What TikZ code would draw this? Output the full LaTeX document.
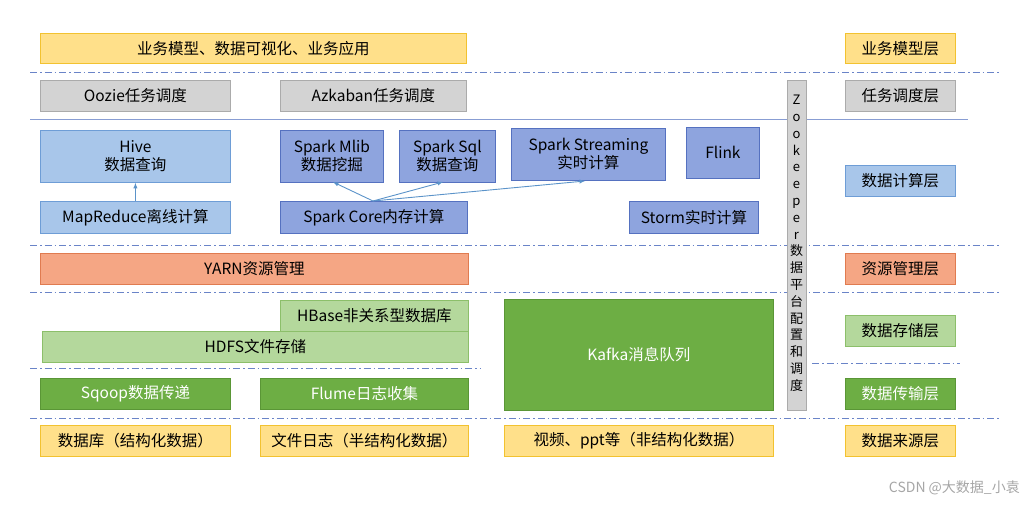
\documentclass[tikz,border=0pt]{standalone}
\usepackage{fontspec}
\setmainfont{Noto Sans CJK SC}
\begin{document}
\begin{tikzpicture}[x=1pt,y=-1pt,
 bx/.style={draw, line width=0.8pt, font=\fontsize{15.5}{18}\selectfont, align=center, inner sep=0pt},
 yel/.style={bx, fill=yellowF, draw=yellowD},
 gry/.style={bx, fill=grayF, draw=grayD},
 lb/.style={bx, fill=lblueF, draw=lblueD},
 pb/.style={bx, fill=pblueF, draw=pblueD},
 org/.style={bx, fill=orgF, draw=orgD},
 lg/.style={bx, fill=lgF, draw=lgD},
 dg/.style={bx, fill=dgF, draw=dgD, text=white},
 dd/.style={dash pattern=on 7pt off 3pt on 1.5pt off 3pt, draw=lineC, line width=0.9pt},
 ar/.style={-latex, draw=arrC, line width=0.9pt}]
\definecolor{yellowF}{HTML}{FFE08A}\definecolor{yellowD}{HTML}{F2C230}
\definecolor{grayF}{HTML}{D3D3D3}\definecolor{grayD}{HTML}{ABABAB}
\definecolor{lblueF}{HTML}{A8C6EA}\definecolor{lblueD}{HTML}{6E9DD6}
\definecolor{pblueF}{HTML}{8EA4DE}\definecolor{pblueD}{HTML}{5571C0}
\definecolor{orgF}{HTML}{F5A684}\definecolor{orgD}{HTML}{E07B50}
\definecolor{lgF}{HTML}{B4D89C}\definecolor{lgD}{HTML}{8CBF6A}
\definecolor{dgF}{HTML}{6DAE44}\definecolor{dgD}{HTML}{5A9636}
\definecolor{lineC}{HTML}{6A84C8}\definecolor{arrC}{HTML}{5B93C9}
\useasboundingbox (0,0) rectangle (1032,504);
% lines
\draw[dd] (30,72) -- (1000,72);
\draw[draw=lineC!80, line width=0.8pt] (30,119) -- (968,119);
\draw[dd] (30,245) -- (1000,245);
\draw[dd] (30,292) -- (1000,292);
\draw[dd] (30,368) -- (480,368);
\draw[dd] (812,363) -- (960,363);
\draw[dd] (30,418) -- (1000,418);
% row 1
\node[yel, minimum width=426, minimum height=30, anchor=north west] (biz) at (40,33) {业务模型、数据可视化、业务应用};
\node[gry, minimum width=190, minimum height=31, anchor=north west] (oozie) at (40,80) {Oozie任务调度};
\node[gry, minimum width=186, minimum height=31, anchor=north west] (azk) at (280,80) {Azkaban任务调度};
% compute
\node[lb, minimum width=190, minimum height=52, anchor=north west] (hive) at (40,130) {Hive\\数据查询};
\node[lb, minimum width=190, minimum height=32, anchor=north west] (mr) at (40,201) {MapReduce离线计算};
\node[pb, minimum width=103, minimum height=52, anchor=north west] (mlib) at (280,130) {Spark Mlib\\数据挖掘};
\node[pb, minimum width=96, minimum height=52, anchor=north west] (sql) at (399,130) {Spark Sql\\数据查询};
\node[pb, minimum width=154, minimum height=52, anchor=north west] (stream) at (511,128) {Spark Streaming\\实时计算};
\node[pb, minimum width=73, minimum height=51, anchor=north west] (flink) at (686,127) {Flink};
\node[pb, minimum width=187, minimum height=32, anchor=north west] (core) at (280,201) {Spark Core内存计算};
\node[pb, minimum width=129, minimum height=32, anchor=north west] (storm) at (629,201) {Storm实时计算};
\coordinate (cs) at (373,201);
\draw[ar] (mr.north) -- (hive.south);
\draw[ar] (cs) -- (333,182);
\draw[ar] (cs) -- (443,182);
\draw[ar] (cs) -- (585,181);
% yarn
\node[org, minimum width=428, minimum height=31, anchor=north west] (yarn) at (40,253) {YARN资源管理};
% storage
\node[lg, minimum width=188, minimum height=31, anchor=north west] (hbase) at (280,300) {HBase非关系型数据库};
\node[lg, minimum width=426, minimum height=31, anchor=north west] (hdfs) at (42,331) {HDFS文件存储};
\node[dg, minimum width=269, minimum height=111, anchor=north west] (kafka) at (504,299) {Kafka消息队列};
\node[dg, minimum width=190, minimum height=31, anchor=north west] (sqoop) at (40,378) {Sqoop数据传递};
\node[dg, minimum width=208, minimum height=31, anchor=north west] (flume) at (260,378) {Flume日志收集};
% sources
\node[yel, minimum width=190, minimum height=31, anchor=north west] (db) at (40,425) {数据库（结构化数据）};
\node[yel, minimum width=208, minimum height=31, anchor=north west] (log) at (260,425) {文件日志（半结构化数据）};
\node[yel, minimum width=269, minimum height=31, anchor=north west] (video) at (504,425) {视频、ppt等（非结构化数据）};
% zookeeper
\node[gry, minimum width=19, minimum height=330, anchor=north west] (zk) at (787,80) {};
\node[font=\fontsize{13}{16.8}\selectfont, align=center, anchor=north, inner sep=0pt] (zkt) at (796.5,95) {Z\\o\\o\\k\\e\\e\\p\\e\\r\\数\\据\\平\\台\\配\\置\\和\\调\\度};
% layers
\node[yel, minimum width=110, minimum height=30, anchor=north west] (l1) at (845,33) {业务模型层};
\node[gry, minimum width=110, minimum height=31, anchor=north west] (l2) at (845,80) {任务调度层};
\node[lb, minimum width=110, minimum height=31, anchor=north west] (l3) at (845,165) {数据计算层};
\node[org, minimum width=110, minimum height=31, anchor=north west] (l4) at (845,253) {资源管理层};
\node[lg, minimum width=110, minimum height=31, anchor=north west] (l5) at (845,315) {数据存储层};
\node[dg, minimum width=110, minimum height=31, anchor=north west] (l6) at (845,378) {数据传输层};
\node[yel, minimum width=110, minimum height=31, anchor=north west] (l7) at (845,425) {数据来源层};
\node[text=black!35, font=\fontsize{14}{16}\selectfont, anchor=south east, inner sep=0pt] (wm) at (1020,495) {CSDN @大数据\_小袁};
\end{tikzpicture}
\end{document}
